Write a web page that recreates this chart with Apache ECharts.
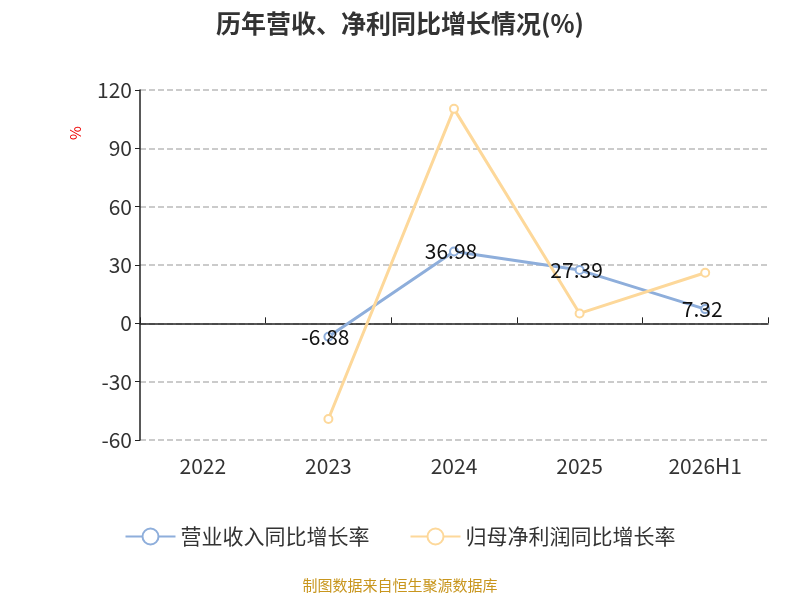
<!DOCTYPE html>
<html>
<head>
<meta charset="UTF-8">
<script src="https://cdn.jsdelivr.net/npm/echarts@6/dist/echarts.min.js"></script>
<style>html,body{margin:0;padding:0;}#main{width:800px;height:600px;}</style>
</head>
<body>
<div id="main"></div>
<script>
var categories = ['2022', '2023', '2024', '2025', '2026H1'];
var revenueGrowth = [null, -6.88, 36.98, 27.39, 7.32];
var profitGrowth = [null, -49.2, 110.3, 5.1, 26.0];
var chart = echarts.init(document.getElementById('main'));
var font = 'Noto Sans CJK SC';
chart.setOption({
  textStyle: { fontFamily: font },
  title: {
    text: '历年营收、净利同比增长情况(%)', left: 'center', top: 6,
    textStyle: { fontSize: 25, fontWeight: 'bold', color: '#333', fontFamily: font }
  },
  graphic: [{
    type: 'text', left: 'center', top: 578,
    style: { text: '制图数据来自恒生聚源数据库', fill: '#c8961e', fontSize: 15, fontFamily: font }
  }, {
    type: 'text', x: 68, y: 140, rotation: Math.PI / 2,
    style: { text: '%', fill: '#e00', fontSize: 15, fontFamily: font }
  }],
  legend: {
    bottom: 48, itemWidth: 50, itemHeight: 20, itemGap: 40,
    textStyle: { fontSize: 21, color: '#333', fontFamily: font },
    data: ['营业收入同比增长率', '归母净利润同比增长率']
  },
  grid: { left: 140, right: 32, top: 90, bottom: 160 },
  xAxis: [{
    type: 'category', data: categories, position: 'bottom',
    axisLine: { show: false, onZero: false }, axisTick: { show: false },
    axisLabel: { fontSize: 21, color: '#333', margin: 16 }
  }, {
    type: 'category', data: categories,
    axisLine: { onZero: true, lineStyle: { color: '#222', width: 1.5 } },
    axisTick: { show: true, length: 6, lineStyle: { color: '#222' } },
    axisLabel: { show: false }
  }],
  yAxis: {
    type: 'value', min: -60, max: 120, interval: 30,
    axisLine: { show: true, lineStyle: { color: '#222', width: 1.5 } },
    axisTick: { show: true, lineStyle: { color: '#222' } },
    axisLabel: { fontSize: 21, color: '#333' },
    splitLine: { lineStyle: { type: 'dashed', color: '#bbb', width: 1.5 } }
  },
  series: [{
    name: '营业收入同比增长率', type: 'line', data: revenueGrowth,
    symbol: 'emptyCircle', symbolSize: 8,
    lineStyle: { color: '#8eaedb', width: 3 }, itemStyle: { color: '#8eaedb' },
    label: { show: true, position: 'inside', offset: [-3, 0], fontSize: 21, color: '#111' }
  }, {
    name: '归母净利润同比增长率', type: 'line', data: profitGrowth,
    symbol: 'emptyCircle', symbolSize: 8,
    lineStyle: { color: '#fdd89a', width: 3 }, itemStyle: { color: '#fdd89a' }
  }]
});
</script>
</body>
</html>
